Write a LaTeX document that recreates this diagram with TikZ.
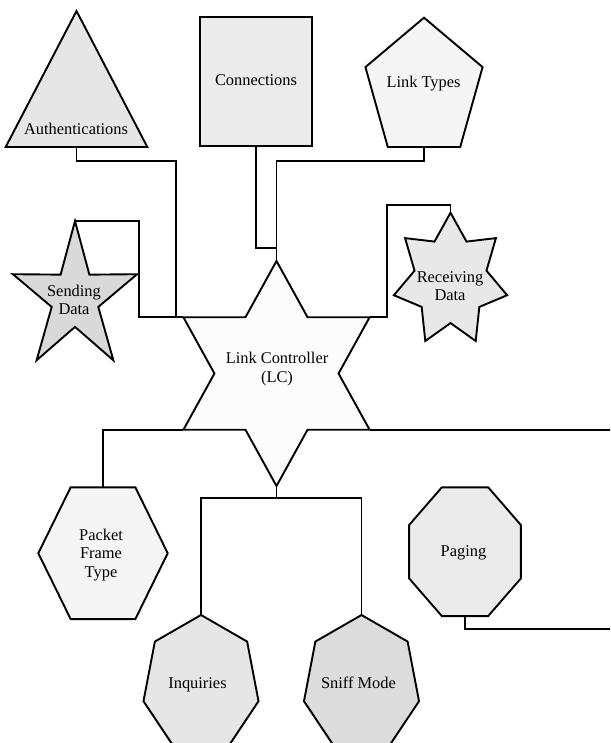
\documentclass[tikz,border=0pt]{standalone}
\usepackage{fontspec}
\setmainfont{Liberation Serif}
\usetikzlibrary{calc}

\definecolor{fillA}{HTML}{E6E6E6}
\definecolor{fillB}{HTML}{EBEBEB}
\definecolor{fillC}{HTML}{F5F5F5}
\definecolor{fillD}{HTML}{D9D9D9}
\definecolor{fillE}{HTML}{FCFCFC}
\definecolor{fillF}{HTML}{E8E8E8}
\definecolor{fillG}{HTML}{DCDCDC}

\tikzset{
  outline/.style={draw=black, line width=1.9pt, line join=miter},
  wire/.style={draw=black, line width=1.9pt},
  label/.style={align=center, inner sep=0pt, font=\fontsize{16.4}{18.6}\selectfont}
}

% polygon or star outline: style, cx, cy, vertex count, start angle, rx, ry, inner ratio
\newcommand\shapeoutline[8]{%
  \pgfmathtruncatemacro\lastvertex{#4-1}%
  \path[outline,#1] ({#2+#6*cos(#5)},{#3-#7*sin(#5)})
    \foreach \k in {1,...,\lastvertex}{
      -- ({#2+#6*(1-(1-#8)*mod(\k,2))*cos(#5+360*\k/#4)},
          {#3-#7*(1-(1-#8)*mod(\k,2))*sin(#5+360*\k/#4)})
    } -- cycle;}

\begin{document}
\begin{tikzpicture}[x=1pt, y=-1pt]
\useasboundingbox (0,0) rectangle (610,743);
\clip (0,0) rectangle (610,743);

% attachment points
\coordinate (auth-s) at (76.5,147);
\coordinate (conn-s) at (256,146.3);
\coordinate (lt-s) at (424,147);
\coordinate (send-n) at (75,221);
\coordinate (recv-n) at (450.5,212.7);
\coordinate (pft-n) at (103,487.3);
\coordinate (pg-s) at (465,616);
\coordinate (inq-n) at (201,615);
\coordinate (sniff-n) at (361.5,615);
\coordinate (lc-n) at (276.5,261);
\coordinate (lc-s) at (276.5,486);
\coordinate (lc-nw) at (183.4,317.25);
\coordinate (lc-ne) at (369.6,317.25);
\coordinate (lc-sw) at (183.4,429.75);
\coordinate (lc-se) at (369.6,429.75);

% connectors
\draw[wire] (auth-s) -- ++(0,13.7) -- ++(99.2,0) |- (lc-nw);
\draw[wire] (send-n) -- ++(64,0) |- (lc-nw);
\draw[wire] (conn-s) -- ++(0,101.4) -| (lc-n);
\draw[wire] (lt-s) -- ++(0,13.7) -| (lc-n);
\draw[wire] (lc-ne) -| ($(recv-n)+(-63.2,-7.7)$) -| (recv-n);
\draw[wire] (lc-sw) -| (pft-n);
\draw[wire] (lc-se) -| ($(pg-s)+(160,13.3)$) -| (pg-s);
\draw[wire] (lc-s) -- ++(0,12.3) coordinate (fork);
\draw[wire] (fork) -| (inq-n);
\draw[wire] (fork) -| (sniff-n);

% shapes
\shapeoutline{fill=fillA}{76.5}{101.7}{3}{90}{81.8}{90.7}{1}
\path[outline, fill=fillB] (200.3,16.7) rectangle (311.7,146.3);
\shapeoutline{fill=fillC}{424}{89.2}{5}{90}{61.6}{71.5}{1}
\shapeoutline{fill=fillD}{75}{298}{10}{90}{65.3}{77}{0.375}
\shapeoutline{fill=fillE}{276.5}{373.5}{12}{90}{107.5}{112.5}{0.57735}
\shapeoutline{fill=fillF}{450.5}{280.2}{14}{90}{58.1}{67.5}{0.635}
\shapeoutline{fill=fillC}{103}{553.2}{6}{0}{64.7}{76.1}{1}
\shapeoutline{fill=fillB}{465}{551.7}{8}{22.5}{60.5}{69.7}{1}
\shapeoutline{fill=fillA}{201}{685.5}{7}{90}{59}{70.5}{1}
\shapeoutline{fill=fillG}{361.5}{685.5}{7}{90}{59}{70.5}{1}

% labels
\node[label] (auth) at (76,128.8) {Authentications};
\node[label] (conn) at (256,80) {Connections};
\node[label] (lt) at (423.5,83.3) {Link Types};
\node[label] (send) at (74,300) {Sending\\Data};
\node[label] (lc) at (277,369) {Link Controller\\(LC)};
\node[label] (recv) at (450,286) {Receiving\\Data};
\node[label] (pft) at (101,555) {Packet\\Frame\\Type};
\node[label] (pg) at (463.5,553) {Paging};
\node[label] (inq) at (197.5,685) {Inquiries};
\node[label] (sniff) at (358.5,683) {Sniff Mode};
\end{tikzpicture}
\end{document}
